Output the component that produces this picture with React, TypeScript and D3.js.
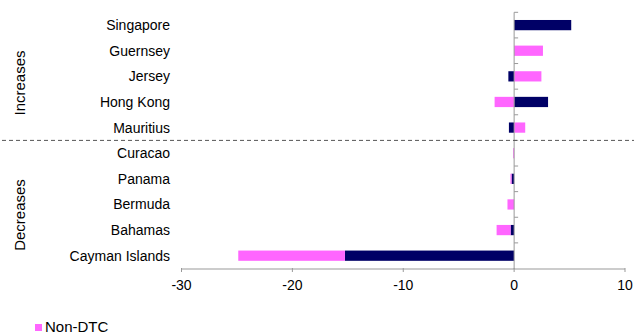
import React from "react";
import * as d3 from "d3";

const categories = ["Singapore", "Guernsey", "Jersey", "Hong Kong", "Mauritius", "Curacao", "Panama", "Bermuda", "Bahamas", "Cayman Islands"];
const dtc = [5.15, 0, -0.52, 3.06, -0.47, 0, -0.23, 0, -0.32, -15.26];
const nonDtc = [0, 2.6, 2.46, -1.76, 1.0, -0.08, -0.1, -0.6, -1.26, -9.62];
const xTicks = [-30, -20, -10, 0, 10];
const groupLabels = ["Increases", "Decreases"];
const legendLabel = "Non-DTC";

const NAVY = "#000066";
const PINK = "#FF66FF";
const FONT = "Liberation Sans, Arial, sans-serif";

export default function App() {
  const W = 634, H = 335;
  const x = d3.scaleLinear().domain([-30, 10]).range([181.5, 625]);
  const y = d3.scaleBand<string>().domain(categories).range([12.3, 268.5]).paddingInner(0.6).paddingOuter(0.3);
  const yb = d3.scaleBand<string>().domain(categories).range([12.3, 268.5]);
  const x0 = x(0);

  const segs: { cat: string; a: number; b: number; color: string }[] = [];
  categories.forEach((c, i) => {
    let pos = 0, neg = 0;
    const add = (v: number, color: string) => {
      if (v >= 0) { segs.push({ cat: c, a: pos, b: pos + v, color }); pos += v; }
      else { segs.push({ cat: c, a: neg + v, b: neg, color }); neg += v; }
    };
    add(dtc[i], NAVY);
    add(nonDtc[i], PINK);
  });

  const axisY = 269;
  const sepY = yb("Curacao")!;
  const incMid = 83;
  const decMid = 215;

  return (
    <svg width={W} height={H} style={{ position: "absolute", left: 0, top: 0, background: "#fff" }} fontFamily={FONT}>
      {segs.filter(s => s.b - s.a > 0).map((s, i) => (
        <rect key={i} x={x(s.a)} y={y(s.cat)!} width={Math.max(x(s.b) - x(s.a), 0.8)} height={y.bandwidth()} fill={s.color} />
      ))}
      {/* y axis at zero */}
      <line x1={x0} x2={x0} y1={12.3} y2={axisY} stroke="#999" strokeWidth={1} />
      {categories.map((c) => (
        <line key={c} x1={x0} x2={x0 + 4} y1={yb(c)!} y2={yb(c)!} stroke="#999" />
      ))}
      {/* x axis */}
      <line x1={x(-30)} x2={x(10)} y1={axisY} y2={axisY} stroke="#999" />
      {xTicks.map((t) => (
        <g key={t}>
          <line x1={x(t)} x2={x(t)} y1={axisY - 1} y2={axisY + 3} stroke="#999" />
          <text x={x(t)} y={290} fontSize={14} textAnchor="middle" fill="#000">{t}</text>
        </g>
      ))}
      {/* category labels */}
      {categories.map((c) => (
        <text key={c} x={170} y={yb(c)! + yb.bandwidth() / 2 + 5} fontSize={14} textAnchor="end" fill="#000">{c}</text>
      ))}
      {/* separator */}
      <line x1={2} x2={634} y1={sepY} y2={sepY} stroke="#555" strokeDasharray="4,3" />
      {/* group labels */}
      <text transform={`translate(25,${incMid}) rotate(-90)`} fontSize={15} textAnchor="middle" fill="#000">{groupLabels[0]}</text>
      <text transform={`translate(25,${decMid}) rotate(-90)`} fontSize={15} textAnchor="middle" fill="#000">{groupLabels[1]}</text>
      {/* legend */}
      <rect x={35} y={324} width={7} height={7} fill={PINK} />
      <text x={45} y={332} fontSize={15} fill="#000">{legendLabel}</text>
    </svg>
  );
}
